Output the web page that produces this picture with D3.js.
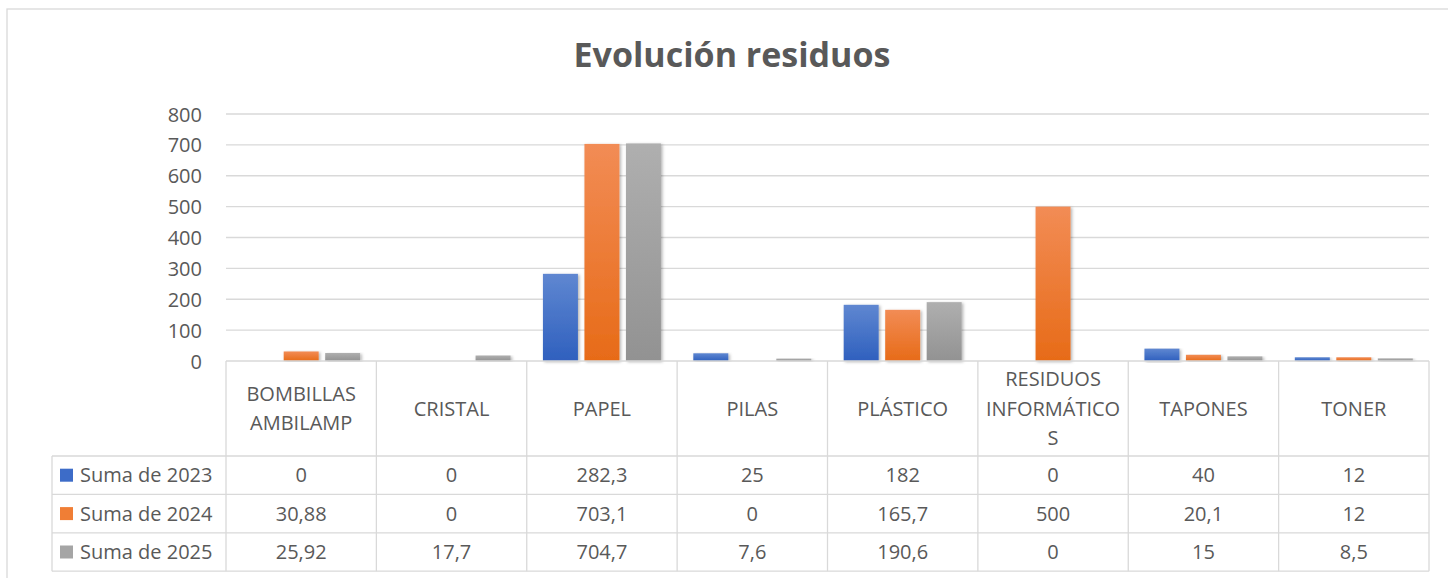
<!DOCTYPE html>
<html><head><meta charset="utf-8">
<script src="https://cdn.jsdelivr.net/npm/d3@7/dist/d3.min.js"></script>
<style>
html,body{margin:0;padding:0;background:#fff;}
svg{display:block;font-family:"Open Sans",sans-serif;}
</style></head>
<body>
<svg id="chart" width="1448" height="578"></svg>
<script>
// ---- data ----
const title = "Evolución residuos";
const categories = ["BOMBILLAS AMBILAMP","CRISTAL","PAPEL","PILAS","PLÁSTICO","RESIDUOS INFORMÁTICOS","TAPONES","TONER"];
const categoryLines = [["BOMBILLAS","AMBILAMP"],["CRISTAL"],["PAPEL"],["PILAS"],["PLÁSTICO"],["RESIDUOS","INFORMÁTICO","S"],["TAPONES"],["TONER"]];
const seriesNames = ["Suma de 2023","Suma de 2024","Suma de 2025"];
const values2023 = [0, 0, 282.3, 25, 182, 0, 40, 12];
const values2024 = [30.88, 0, 703.1, 0, 165.7, 500, 20.1, 12];
const values2025 = [25.92, 17.7, 704.7, 7.6, 190.6, 0, 15, 8.5];
const labels2023 = ["0","0","282,3","25","182","0","40","12"];
const labels2024 = ["30,88","0","703,1","0","165,7","500","20,1","12"];
const labels2025 = ["25,92","17,7","704,7","7,6","190,6","0","15","8,5"];
const yTicks = [0,100,200,300,400,500,600,700,800];

const seriesValues = [values2023, values2024, values2025];
const seriesLabels = [labels2023, labels2024, labels2025];
const gradStops = [["#5f87d1","#2f60be"],["#f28c55","#e76b18"],["#afafaf","#929292"]];
const legendColors = ["#3d6cc8","#f07e35","#a5a5a5"];

// ---- layout ----
const svg = d3.select("#chart");
const plotL = 226, plotR = 1429, plotT = 114, plotB = 361;
const headerB = 456, rowH = 38.4, tableL = 52;
const textCol = "#595959", gridCol = "#d9d9d9";

const defs = svg.append("defs");
gradStops.forEach((g,i)=>{
  const lg = defs.append("linearGradient").attr("id","g"+i).attr("x1",0).attr("y1",0).attr("x2",0).attr("y2",1);
  lg.append("stop").attr("offset","0%").attr("stop-color",g[0]);
  lg.append("stop").attr("offset","100%").attr("stop-color",g[1]);
});
const f = defs.append("filter").attr("id","sh").attr("x","-20%").attr("y","-5%").attr("width","150%").attr("height","115%");
f.append("feDropShadow").attr("dx",1.5).attr("dy",1).attr("stdDeviation",1.5).attr("flood-color","#000").attr("flood-opacity",0.3);

// outer border
svg.append("rect").attr("x",7).attr("y",9).attr("width",1470).attr("height",620)
  .attr("fill","#fff").attr("stroke",gridCol).attr("stroke-width",1.3);

// title
svg.append("text").attr("x",732).attr("y",67).attr("text-anchor","middle")
  .attr("font-size",34).attr("font-weight",700).attr("fill",textCol).text(title);

const x = d3.scaleBand().domain(categories).range([plotL,plotR]).paddingInner(0).paddingOuter(0);
const xs = d3.scaleBand().domain(seriesNames).range([0,x.bandwidth()]).paddingInner(0.157).paddingOuter(0.39);
const y = d3.scaleLinear().domain([0,800]).range([plotB,plotT]);

// gridlines
svg.append("g").selectAll("line").data(yTicks.filter(t=>t>0)).join("line")
  .attr("x1",plotL).attr("x2",plotR).attr("y1",d=>y(d)).attr("y2",d=>y(d))
  .attr("stroke",gridCol).attr("stroke-width",1.3);

// y axis labels
const yAxis = d3.axisLeft(y).tickValues(yTicks).tickSize(0).tickPadding(0).tickFormat(d3.format("d"));
const ya = svg.append("g").attr("transform","translate(202,0)").call(yAxis);
ya.select(".domain").remove();
ya.selectAll("text").attr("font-size",20).attr("fill",textCol).attr("font-family","Open Sans").attr("dy","0.35em");

// bars
seriesValues.forEach((vals,si)=>{
  svg.append("g").selectAll("rect").data(vals.map((v,i)=>({v,c:categories[i]}))).join("rect")
    .filter(d=>d.v>0)
    .attr("x",d=>x(d.c)+xs(seriesNames[si]))
    .attr("width",xs.bandwidth())
    .attr("y",d=>y(d.v))
    .attr("height",d=>y(0)-y(d.v))
    .attr("fill","url(#g"+si+")")
    .attr("filter","url(#sh)");
});

// table lines
const tl = svg.append("g").attr("stroke",gridCol).attr("stroke-width",1.3);
tl.append("line").attr("x1",plotL).attr("x2",plotR).attr("y1",plotB).attr("y2",plotB);
const bounds = categories.map(c=>x(c)).concat([plotR]);
bounds.forEach(b=>tl.append("line").attr("x1",b).attr("x2",b).attr("y1",plotB).attr("y2",headerB+3*rowH));
for(let r=0;r<=3;r++){
  tl.append("line").attr("x1",tableL).attr("x2",plotR).attr("y1",headerB+r*rowH).attr("y2",headerB+r*rowH);
}
tl.append("line").attr("x1",tableL).attr("x2",tableL).attr("y1",headerB).attr("y2",headerB+3*rowH);

// category headers
const hc = (plotB+headerB)/2, lh = 29.5;
categories.forEach((c,i)=>{
  const lines = categoryLines[i];
  const t = svg.append("text").attr("text-anchor","middle").attr("font-size",20).attr("fill",textCol);
  lines.forEach((ln,j)=>{
    t.append("tspan").attr("x",x(c)+x.bandwidth()/2)
      .attr("y",hc+7+(j-(lines.length-1)/2)*lh).text(ln);
  });
});

// rows
seriesNames.forEach((s,si)=>{
  const cy = headerB+si*rowH+rowH/2;
  svg.append("rect").attr("x",60).attr("y",cy-6.5).attr("width",13).attr("height",13).attr("fill",legendColors[si]);
  svg.append("text").attr("x",80).attr("y",cy+7).attr("font-size",20).attr("fill",textCol).text(s);
  svg.append("g").selectAll("text").data(seriesLabels[si]).join("text")
    .attr("x",(d,i)=>x(categories[i])+x.bandwidth()/2).attr("y",cy+7)
    .attr("text-anchor","middle").attr("font-size",20).attr("fill",textCol).text(d=>d);
});
</script>
</body></html>
